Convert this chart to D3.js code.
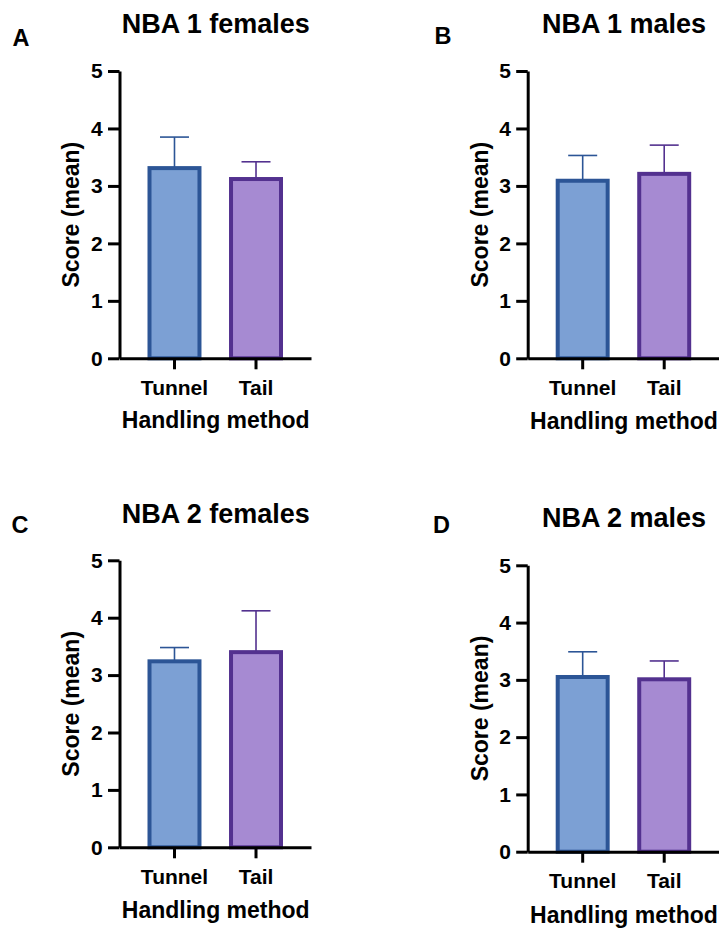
<!DOCTYPE html>
<html>
<head>
<meta charset="utf-8">
<script src="https://cdn.jsdelivr.net/npm/d3@7"></script>
<style>
  html, body { margin: 0; padding: 0; background: #fff; }
  svg { display: block; }
  text { font-family: "Liberation Sans", Arial, Helvetica, sans-serif; font-weight: bold; fill: #000; }
</style>
</head>
<body>
<svg id="chart" width="719" height="929"></svg>
<script>
// Handling methods on the x axis
const categories = ["Tunnel", "Tail"];
// Panel letters and titles
const panelLetters = ["A", "B", "C", "D"];
const panelTitles = ["NBA 1 females", "NBA 1 males", "NBA 2 females", "NBA 2 males"];
// Mean scores per panel (Tunnel, Tail)
const meanA = [3.31, 3.12];
const meanB = [3.09, 3.21];
const meanC = [3.24, 3.40];
const meanD = [3.05, 3.01];
// Upper error bar lengths per panel (Tunnel, Tail)
const errA = [0.54, 0.30];
const errB = [0.44, 0.50];
const errC = [0.24, 0.72];
const errD = [0.44, 0.32];
// Y axis ticks and labels
const yTicks = [0, 1, 2, 3, 4, 5];
const yLabel = "Score (mean)";
const xLabel = "Handling method";

const means = [meanA, meanB, meanC, meanD];
const errs = [errA, errB, errC, errD];

const fills = ["#7ca0d4", "#a68ad2"];
const strokes = ["#2c5596", "#53318f"];

// Plot frame per panel: left of y axis, pixel rows of 5 and 0, title/letter placement
const layout = [
  { x0: 119.5, yTop: 71.0,  yBot: 358.3, titleY: 33.3,  letterX: 12.5,  letterY: 45.7,  tickY: 395.0, xTitleY: 428.0, yTitleX: 79.0 },
  { x0: 527.7, yTop: 71.0,  yBot: 358.3, titleY: 33.3,  letterX: 434.5, letterY: 44.3,  tickY: 395.0, xTitleY: 429.0, yTitleX: 488.0 },
  { x0: 119.5, yTop: 560.3, yBot: 847.3, titleY: 523.3, letterX: 11.5,  letterY: 532.7, tickY: 884.3, xTitleY: 918.3, yTitleX: 79.0 },
  { x0: 527.7, yTop: 565.3, yBot: 851.7, titleY: 527.3, letterX: 433.0, letterY: 533.3, tickY: 888.3, xTitleY: 922.7, yTitleX: 488.0 }
];
const plotW = 191.5;
const tickLen = 11.5;

const svg = d3.select("#chart");

layout.forEach((L, i) => {
  const g = svg.append("g");
  const y = d3.scaleLinear().domain([0, 5]).range([L.yBot, L.yTop]);
  const x = d3.scaleBand().domain(categories)
    .range([L.x0, L.x0 + plotW])
    .paddingInner(0.387).paddingOuter(0.368);

  const rows = categories.map((c, k) => ({ c, k, v: means[i][k], e: errs[i][k] }));

  // error bars (upper only), drawn under the bars
  const eb = g.append("g");
  rows.forEach(r => {
    const cx = x(r.c) + x.bandwidth() / 2;
    eb.append("line")
      .attr("x1", cx).attr("x2", cx)
      .attr("y1", y(r.v)).attr("y2", y(r.v + r.e))
      .attr("stroke", strokes[r.k]).attr("stroke-width", 1.6);
    eb.append("line")
      .attr("x1", cx - 14.5).attr("x2", cx + 14.5)
      .attr("y1", y(r.v + r.e)).attr("y2", y(r.v + r.e))
      .attr("stroke", strokes[r.k]).attr("stroke-width", 1.6);
  });

  // bars
  g.append("g").selectAll("rect").data(rows).join("rect")
    .attr("x", d => x(d.c))
    .attr("y", d => y(d.v))
    .attr("width", x.bandwidth())
    .attr("height", d => y(0) - y(d.v))
    .attr("fill", d => fills[d.k])
    .attr("stroke", d => strokes[d.k])
    .attr("stroke-width", 4);

  // y axis
  const ya = g.append("g")
    .attr("transform", `translate(${L.x0},0)`)
    .call(d3.axisLeft(y).tickValues(yTicks).tickFormat(d3.format("d"))
      .tickSize(tickLen).tickSizeOuter(0).tickPadding(5.3));
  ya.select(".domain").attr("stroke", "#000").attr("stroke-width", 3);
  ya.selectAll(".tick line").attr("stroke", "#000").attr("stroke-width", 3);
  ya.selectAll(".tick text").attr("font-size", 21).attr("font-family", null);

  // x axis
  const xa = g.append("g")
    .attr("transform", `translate(0,${L.yBot})`)
    .call(d3.axisBottom(x).tickSize(11).tickSizeOuter(0).tickPadding(0));
  xa.select(".domain").attr("stroke", "#000").attr("stroke-width", 3);
  xa.selectAll(".tick line").attr("stroke", "#000").attr("stroke-width", 3);
  xa.selectAll(".tick text")
    .attr("font-size", 21).attr("font-family", null)
    .attr("dy", null)
    .attr("y", L.tickY - L.yBot);

  // axis titles
  g.append("text")
    .attr("x", L.x0 + plotW / 2 + 0.5).attr("y", L.xTitleY)
    .attr("text-anchor", "middle").attr("font-size", 23)
    .text(xLabel);
  g.append("text")
    .attr("transform", `translate(${L.yTitleX},${(L.yTop + L.yBot) / 2}) rotate(-90)`)
    .attr("text-anchor", "middle").attr("font-size", 23)
    .text(yLabel);

  // panel title and letter
  g.append("text")
    .attr("x", L.x0 + plotW / 2 + 0.5).attr("y", L.titleY)
    .attr("text-anchor", "middle").attr("font-size", 27)
    .text(panelTitles[i]);
  g.append("text")
    .attr("x", L.letterX).attr("y", L.letterY)
    .attr("font-size", 23.5)
    .text(panelLetters[i]);
});
</script>
</body>
</html>
